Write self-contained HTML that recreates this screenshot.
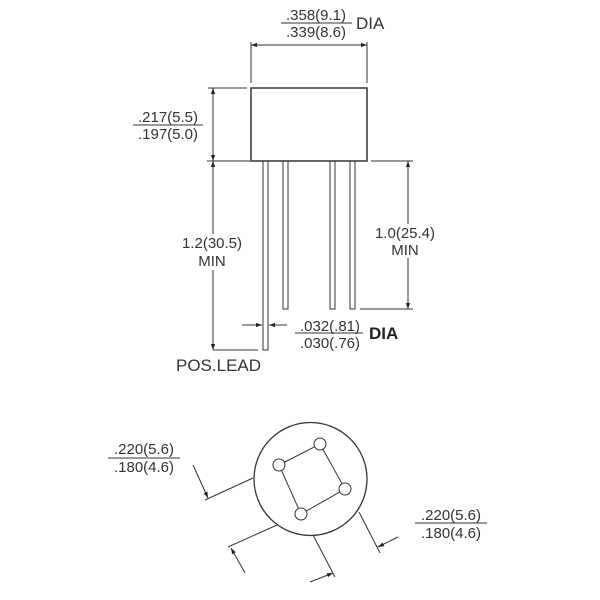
<!DOCTYPE html>
<html><head><style>
html,body{margin:0;padding:0;background:#fff;}
svg{display:block;}
text{font-family:"Liberation Sans",sans-serif;font-size:15px;fill:#333;}
</style></head><body>
<svg width="600" height="600" viewBox="0 0 600 600" xmlns="http://www.w3.org/2000/svg">
<defs>
<marker id="a" viewBox="0 0 10 10" refX="10" refY="5" markerWidth="8" markerHeight="6" orient="auto-start-reverse" markerUnits="userSpaceOnUse">
<path d="M0,1.5 L10,5 L0,8.5 z" fill="#222"/></marker>
</defs>
<g stroke="#333" stroke-width="1" fill="none">
<rect x="251" y="88" width="116" height="73" stroke-width="1.5"/>
<rect x="263" y="161" width="5" height="189"/>
<rect x="283" y="161" width="5" height="148"/>
<rect x="330" y="161" width="5" height="148"/>
<rect x="350" y="161" width="5" height="148"/>
<line x1="251" y1="42" x2="251" y2="83"/>
<line x1="367" y1="42" x2="367" y2="83"/>
<line x1="251" y1="45" x2="367" y2="45" marker-start="url(#a)" marker-end="url(#a)"/>
<line x1="281" y1="23" x2="352" y2="23"/>
<line x1="208" y1="88" x2="247" y2="88"/>
<line x1="207" y1="161" x2="250" y2="161"/>
<line x1="213" y1="88" x2="213" y2="161" marker-start="url(#a)" marker-end="url(#a)"/>
<line x1="133" y1="125" x2="203" y2="125"/>
<line x1="213" y1="161" x2="213" y2="350" marker-start="url(#a)" marker-end="url(#a)"/>
<line x1="213" y1="350" x2="258" y2="350"/>
<line x1="371" y1="161" x2="413" y2="161"/>
<line x1="360" y1="309" x2="413" y2="309"/>
<line x1="408" y1="161" x2="408" y2="309" marker-start="url(#a)" marker-end="url(#a)"/>
<line x1="242" y1="325" x2="262" y2="325" marker-end="url(#a)"/>
<line x1="287" y1="325" x2="269" y2="325" marker-end="url(#a)"/>
<line x1="295" y1="333" x2="363" y2="333"/>
<circle cx="310.5" cy="479" r="56.5" stroke-width="1.3"/>
<polygon points="320,444 345,489 301,514 279,465"/>
<g fill="#fff">
<circle cx="320" cy="444" r="6"/><circle cx="279" cy="465" r="6"/>
<circle cx="345" cy="489" r="6"/><circle cx="301" cy="514" r="6"/>
</g>
<line x1="253" y1="478" x2="205" y2="500"/>
<line x1="193" y1="465" x2="208" y2="498" marker-end="url(#a)"/>
<line x1="277" y1="525" x2="228" y2="547"/>
<line x1="245" y1="573" x2="231" y2="548" marker-end="url(#a)"/>
<line x1="359" y1="512" x2="380" y2="553"/>
<line x1="398" y1="537" x2="378" y2="547" marker-end="url(#a)"/>
<line x1="313" y1="535" x2="335" y2="577"/>
<line x1="310" y1="582" x2="333" y2="573" marker-end="url(#a)"/>
<line x1="108" y1="458" x2="180" y2="458"/>
<line x1="415" y1="523" x2="487" y2="523"/>
</g>
<g fill="#fff">
<rect x="182" y="234" width="62" height="36"/>
<rect x="376" y="224" width="60" height="34"/>
</g>
<g text-anchor="middle">
<text x="316" y="20">.358(9.1)</text>
<text x="316" y="37">.339(8.6)</text>
<text x="168" y="122">.217(5.5)</text>
<text x="168" y="139">.197(5.0)</text>
<text x="212" y="248">1.2(30.5)</text>
<text x="212" y="266">MIN</text>
<text x="405" y="238">1.0(25.4)</text>
<text x="405" y="255">MIN</text>
<text x="330" y="331">.032(.81)</text>
<text x="330" y="348">.030(.76)</text>
<text x="144" y="454">.220(5.6)</text>
<text x="144" y="472">.180(4.6)</text>
<text x="451" y="520">.220(5.6)</text>
<text x="451" y="538">.180(4.6)</text>
</g>
<text x="356" y="29" style="font-size:17px">DIA</text>
<text x="369" y="339" style="font-size:17px;font-weight:bold;fill:#222">DIA</text>
<text x="176" y="371" style="font-size:17px">POS.LEAD</text>
</svg>
</body></html>
